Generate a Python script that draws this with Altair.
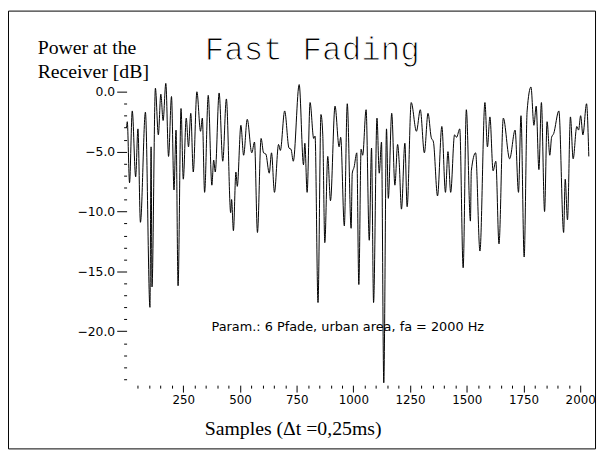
import altair as alt
import pandas as pd

# ---- data (sample index, received power in dB) ----
samples = [0, 3, 13, 25, 40, 50, 61, 83, 103, 108, 112, 127, 140, 151, 161, 173, 185, 198, 209, 218,
           227, 240, 250, 263, 273, 283, 294, 310, 326, 334, 344, 360, 376, 384, 391, 408, 424, 440, 459, 463,
           471, 482, 488, 504,
           516, 532, 552, 564, 577, 593, 604, 614, 629, 639, 652, 670, 678, 697, 716, 725, 735, 761, 780, 786,
           796, 809, 825, 831, 844, 857, 865, 874, 887, 899, 919, 937, 944, 960, 973, 990, 995, 1003, 1015,
           1024, 1034, 1041, 1056, 1070, 1080, 1089, 1104, 1114, 1124, 1134, 1146, 1154, 1169, 1183, 1195,
           1202, 1212, 1227, 1237, 1255, 1278, 1295, 1313, 1329, 1343, 1353, 1371, 1390, 1406, 1417, 1429,
           1446, 1455, 1469, 1484, 1498, 1516, 1520,
           1539, 1558, 1580, 1591, 1602, 1616, 1628, 1642, 1661, 1689, 1713, 1728, 1739, 1753, 1766, 1783,
           1796, 1806, 1818, 1829, 1843, 1854, 1866, 1874, 1883, 1906, 1927, 1934, 1944, 1957, 1969, 1985,
           1993, 2002, 2012, 2028, 2038]
power_db = [-3.0, -2.5, -7.6, -1.6, -7.1, -3.1, -10.9, -1.7, -18.0, -4.6, -16.3, 0.3, -3.6, -0.2, -2.4, 0.7,
            -5.4, -0.4, -8.2, -3.2, -16.2, -1.4, -7.3, -2.2, -4.6, -1.8, -6.7, 0.0, -3.3, -2.2, -8.4, -0.3,
            -7.8, -5.7, -6.7, -0.1, -5.8, -0.6, -10.1, -9.0, -11.6, -6.7, -7.9, -2.8,
            -5.3, -2.3, -5.1, -4.2, -11.75, -3.9, -5.1, -5.2, -6.8, -5.1, -8.4, -4.4, -4.9, -1.6, -4.7, -4.8,
            -5.8, 0.6, -6.1, -4.3, -8.4, -0.9, -3.9, -3.7, -17.6, -1.9, -3.6, -12.6, -5.4, -9.1, -1.2, -4.6,
            -3.8, -11.2, -1.0, -11.4, -6.8, -6.3, -5.1,
            -16.1, -4.8, -5.3, -1.5, -12.4, -4.7, -17.6, -2.2, -6.8, -4.2, -24.3, -3.1, -8.9, -1.8, -7.8, -4.4,
            -5.9, -9.8, -4.3, -9.6, -0.9, -3.3, -1.5, -5.1, -1.8, -3.8, -4.2, -8.7, -2.9, -8.4, -5.0, -8.4,
            -3.6, -3.8, -3.1, -14.7, -1.5, -10.8, -6.6,
            -5.1, -13.3, -0.9, -4.6, -2.1, -6.6, -5.8, -12.7, -2.2, -5.6, -3.2, -8.4, -2.0, -13.8, -1.6, 0.4,
            -2.8, -1.2, -6.5, -0.9, -10.0, -2.5, -5.3, -3.8, -3.5, -1.6, -11.75, -7.3, -10.7, -2.1, -5.6, -2.9,
            -3.2, -2.0, -3.6, -1.0, -5.4]

x_ticks = list(range(50, 2001, 50))
y_ticks = list(range(0, -25, -1))

title_text = "Fast Fading"
ylabel_lines = ["Power at the", "Receiver [dB]"]
xlabel_text = "Samples (\u0394t =0,25ms)"
param_text = "Param.: 6 Pfade, urban area, fa = 2000 Hz"

df = pd.DataFrame({"sample": samples, "power": power_db})

line = alt.Chart(df).mark_line(color="black", strokeWidth=1, interpolate="monotone").encode(
    x=alt.X("sample:Q",
            scale=alt.Scale(domain=[0, 2048], nice=False, zero=False),
            axis=alt.Axis(values=x_ticks, title=None, domain=False, grid=False, format="d",
                          labelExpr="datum.value % 250 === 0 ? datum.label : ''",
                          tickSize={"condition": {"test": "datum.value % 250 === 0", "value": 7}, "value": 3},
                          labelPadding=3, labelOverlap=False, labelFlush=False,
                          labelFont="DejaVu Sans", labelFontSize=12, labelColor="black",
                          tickColor="black")),
    y=alt.Y("power:Q",
            scale=alt.Scale(domain=[-24.5, 1.0], nice=False, zero=False),
            axis=alt.Axis(values=y_ticks, title=None, domain=False, grid=False, format=".1f",
                          labelExpr="datum.value % 5 === 0 ? datum.label : ''",
                          tickSize={"condition": {"test": "datum.value % 5 === 0", "value": 10}, "value": 3},
                          labelPadding=2, labelOverlap=False, labelFlush=False,
                          labelFont="DejaVu Sans", labelFontSize=12.5, labelColor="black",
                          tickColor="black")),
)


def text_layer(txt, x, y, font, size, **extra):
    return alt.Chart(pd.DataFrame({"t": [txt]})).mark_text(
        font=font, fontSize=size, align="left", baseline="alphabetic", color="black", **extra
    ).encode(x=alt.value(x), y=alt.value(y), text="t:N")


frame = alt.Chart(pd.DataFrame({"a": [0]})).mark_rect(
    fill="transparent", stroke="black", strokeWidth=1
).encode(x=alt.value(-119.5), y=alt.value(-69.5), x2=alt.value(474.5), y2=alt.value(373.5))

layers = [
    frame,
    line,
    text_layer(title_text, 79, -20, "Liberation Mono", 33, stroke="white", strokeWidth=1.1),
    text_layer(ylabel_lines[0], -90, -26, "Liberation Serif", 20),
    text_layer(ylabel_lines[1], -90, -2, "Liberation Serif", 20),
    text_layer(param_text, 86, 254, "DejaVu Sans", 13),
    text_layer(xlabel_text, 79, 359, "Liberation Serif", 20),
]

chart = alt.layer(*layers).properties(
    width=470, height=309,
    autosize=alt.AutoSizeParams(type="none"),
    padding={"left": 120, "top": 70, "right": 6, "bottom": 66},
).configure_view(stroke=None)

chart.save("out.html", embed_options={"renderer": "svg", "actions": False})
